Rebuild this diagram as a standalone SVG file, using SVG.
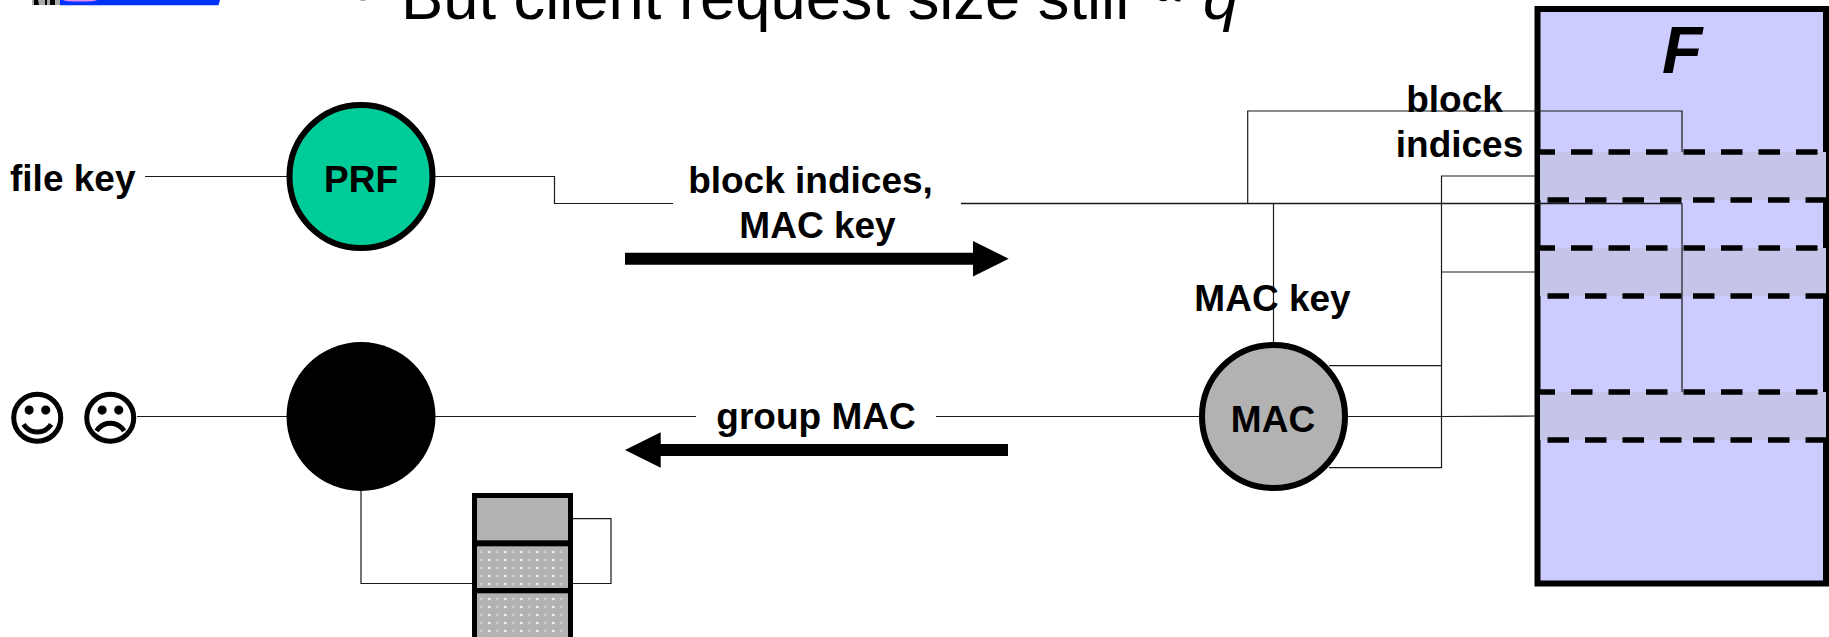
<svg xmlns="http://www.w3.org/2000/svg" width="1829" height="637" viewBox="0 0 1829 637">
<style>
text{font-family:"Liberation Sans",Arial,sans-serif;fill:#000}
.b{font-weight:700;font-size:37px}
.m{text-anchor:middle}
.c{fill:none;stroke:#1a1a1a;stroke-width:1.2}
.n{stroke:#000;stroke-width:6}
.d{fill:none;stroke:#000;stroke-width:5.500;stroke-dasharray:21.500 16}
.band{fill:#c4c4e8}
.cell{fill:#b2b2b2}
.e{font-size:58px;font-family:"DejaVu Sans",sans-serif;stroke:#000;stroke-width:1.200}
</style>
<defs>
<pattern id="dots" patternUnits="userSpaceOnUse" x="481.3" y="548" width="16" height="8">
<rect width="16" height="8" fill="#b2b2b2"/>
<circle cx="8" cy="4" r="1.300" fill="#fafafa"/>
<rect x="15.500" y="2.800" width="1" height="2.400" fill="#eee"/>
<rect x="-0.500" y="2.800" width="1" height="2.400" fill="#eee"/>
</pattern>
<pattern id="dots2" href="#dots" y="595"/>
</defs>
<g id="slide-fragment">
<rect x="32" y="0" width="28" height="5" fill="#aaa"/>
<path d="M34 0h4l1 5h-5zM45 0h2v5h-2zM50 0h5v5h-5z" fill="#000"/>
<path d="M60 0H220L218.500 5.300H60z" fill="#0033ff"/>
<ellipse cx="80" cy="0" rx="17" ry="1.600" fill="#e58af0"/>
<circle cx="363" cy="-5" r="6" fill="#999"/>
<text x="401" y="19" font-size="63.300">But client request size still<tspan x="1150" y="7" font-size="50">∝</tspan><tspan x="1203" y="19" font-style="italic">q</tspan></text>
</g>
<g id="node-F">
<rect x="1537.500" y="9" width="288.500" height="574.500" fill="#ccccff" stroke="#000" stroke-width="6"/>
<rect class="band" x="1540" y="152" width="286" height="48"/>
<rect class="band" x="1540" y="248" width="286" height="48"/>
<rect class="band" x="1540" y="392" width="286" height="48"/>
<path class="d" d="M1536.500 152H1825M1536.500 248H1825M1536.500 392H1825" style="stroke-dashoffset:3"/>
<path class="d" d="M1547.500 200H1682M1693 200H1829M1547.500 296H1682M1693 296H1829M1547.500 440H1682M1693 440H1829"/>
<text x="1662" y="73" font-size="66" font-weight="700" font-style="italic">F</text>
</g>
<g id="connectors">
<path class="c" d="M145 176.500H287M435 176.500H554.500V203.500H673"/>
<path class="c" style="stroke-width:1.500" d="M961 203.500H1682"/>
<path class="c" d="M1682 203.500V392M1247.700 203.500V111H1682V152M1273.500 203.500V342"/>
<path class="c" d="M1535 176H1441.500V467.700H1329M1535 272H1441.500M1441.500 365.700H1329M1348 416.500H1441.500L1535 416"/>
<path class="c" d="M137 416.500H287M435 416.500H696M936 416.500H1199"/>
<path class="c" d="M361 491V583.500H473M573 518.700H611V583.500H573"/>
</g>
<g id="node-PRF">
<circle class="n" cx="361" cy="176.500" r="71.500" fill="#00cc99"/>
<text class="b m" x="361" y="192">PRF</text>
</g>
<g id="node-verify">
<circle cx="361" cy="416.500" r="74.500" fill="#000"/>
</g>
<g id="node-MAC">
<circle class="n" cx="1273.500" cy="416.500" r="71.500" fill="#b2b2b2"/>
<text class="b m" x="1273" y="431.500">MAC</text>
</g>
<g id="node-blocks">
<rect x="472" y="493" width="101" height="150" fill="#000"/>
<rect class="cell" x="477" y="498" width="91" height="42.300"/>
<rect x="477" y="546.300" width="91" height="41.700" fill="url(#dots)"/>
<rect x="477" y="593.300" width="91" height="44" fill="url(#dots2)"/>
</g>
<g id="labels">
<text class="b" x="10" y="190.500">file key</text>
<text class="e" x="7" y="439">☺</text>
<text class="e" x="80" y="439">☹</text>
<text class="b m" x="810.500" y="193">block indices,</text>
<text class="b m" x="817.500" y="238">MAC key</text>
<text class="b m" x="816" y="429">group MAC</text>
<text class="b m" x="1272.500" y="311">MAC key</text>
<text class="b m" x="1454.500" y="112">block</text>
<text class="b m" x="1459.500" y="157">indices</text>
</g>
<g id="arrows">
<path d="M625 252.700H973V241L1008.700 258.700L973 276.500V264.700H625z" fill="#000"/>
<path d="M1008 444H660.700V432.300L625 450L660.700 467.700V456H1008z" fill="#000"/>
</g>
</svg>
